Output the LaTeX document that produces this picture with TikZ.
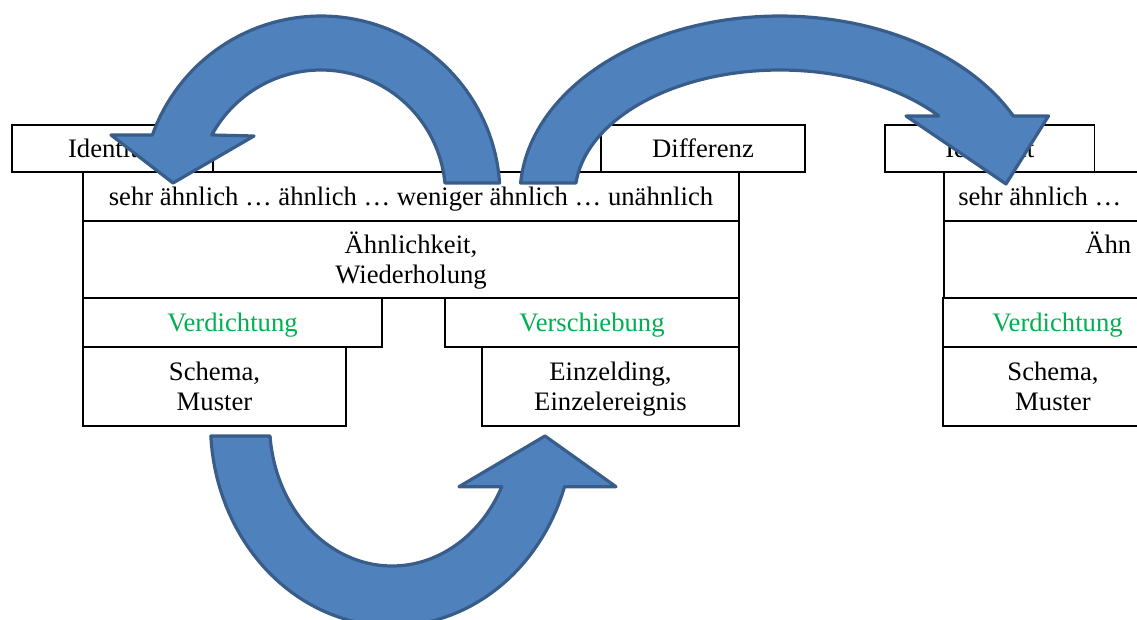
\documentclass[tikz,border=0pt]{standalone}
\usepackage{fontspec}
\setmainfont{Liberation Serif}
\definecolor{arrfill}{HTML}{4F81BD}
\definecolor{arrline}{HTML}{385D8A}
\definecolor{vgreen}{HTML}{00B050}
\newcommand{\hstrut}{\rule{0pt}{18pt}}
\newcommand{\dstrut}{\rule[-5pt]{0pt}{5pt}}
\tikzset{
  box/.style={draw=black, line width=1.4pt, inner sep=0pt, align=center,
    font=\fontsize{20}{22.5}\selectfont},
  txt/.style={inner sep=0pt, font=\fontsize{20}{22.5}\selectfont},
  greentext/.style={text=vgreen},
  bigarrow/.style={fill=arrfill, draw=arrline, line width=2.4pt, line join=round}
}
\begin{document}
\begin{tikzpicture}[x=0.75pt,y=-0.75pt]
\useasboundingbox (0,0) rectangle (1137,620);
\clip (0,0) rectangle (1137,620);
% left group
\node[box, minimum width=201*0.75pt, minimum height=47*0.75pt] (idL) at (112.5,148.5) {\hstrut\dstrut Identität};
\node[box, minimum width=204*0.75pt, minimum height=47*0.75pt] (difL) at (703,148.5) {\hstrut\dstrut Differenz};
\node[box, minimum width=656*0.75pt, minimum height=49*0.75pt] (r1L) at (411,196.5) {\hstrut\dstrut sehr ähnlich … ähnlich … weniger ähnlich … unähnlich};
\node[box, minimum width=656*0.75pt, minimum height=77*0.75pt] (r2L) at (411,259.5) {\hstrut Ähnlichkeit,\\Wiederholung\dstrut};
\node[box, greentext, minimum width=299*0.75pt, minimum height=49*0.75pt] (verdL) at (232.5,322.5) {\hstrut\dstrut Verdichtung};
\node[box, greentext, minimum width=294*0.75pt, minimum height=49*0.75pt] (verschL) at (592,322.5) {\hstrut\dstrut Verschiebung};
\node[box, minimum width=263*0.75pt, minimum height=79*0.75pt] (schemaL) at (214.5,386.5) {\hstrut Schema,\\Muster\dstrut};
\node[box, minimum width=257*0.75pt, minimum height=79*0.75pt] (einzelL) at (610.5,386.5) {\hstrut Einzelding,\\Einzelereignis\dstrut};
% right group
\node[box, minimum width=209.5*0.75pt, minimum height=47*0.75pt] (idR) at (989.75,148.5) {\hstrut\dstrut Identität};
\node[box, anchor=west, minimum width=300*0.75pt, minimum height=49*0.75pt] (r1R) at (943,196.5) {};
\node[txt, anchor=base west] (r1Rt) at (958,205) {sehr ähnlich …};
\node[box, anchor=west, minimum width=300*0.75pt, minimum height=77*0.75pt] (r2R) at (943,259.5) {};
\node[txt, anchor=base west] (r2Rt) at (1085,253.3) {Ähn};
\node[box, greentext, minimum width=229*0.75pt, minimum height=49*0.75pt] (verdR) at (1057.5,322.5) {\hstrut\dstrut Verdichtung};
\node[box, minimum width=220*0.75pt, minimum height=79*0.75pt] (schemaR) at (1053,386.5) {\hstrut Schema,\\Muster\dstrut};
% arrows
\draw[bigarrow] plot[domain=356.16:199.58, samples=70, variable=\t] ({321+179*cos(\t)},{195+179*sin(\t)})
  -- (111,135) -- (173,183) -- (254,136)
  -- plot[domain=208.69:354.49, samples=70, variable=\t] ({321+124.5*cos(\t)},{195+125*sin(\t)}) -- cycle;
\draw[bigarrow] plot[domain=183.84:333.81, samples=70, variable=\t] ({780+260*cos(\t)},{195+179*sin(\t)})
  -- (1048.5,116) -- (1006,184) -- (906,116)
  -- plot[domain=320.8:185.51, samples=70, variable=\t] ({780+205*cos(\t)},{195+125*sin(\t)}) -- cycle;
\draw[bigarrow] plot[domain=176.59:18.08, samples=70, variable=\t] ({392+181.5*cos(\t)},{424+202*sin(\t)})
  -- (616,486.7) -- (545,436) -- (459,486.7)
  -- plot[domain=26.2:175.15, samples=70, variable=\t] ({392+122.4*cos(\t)},{424+142*sin(\t)}) -- cycle;
\end{tikzpicture}
\end{document}
